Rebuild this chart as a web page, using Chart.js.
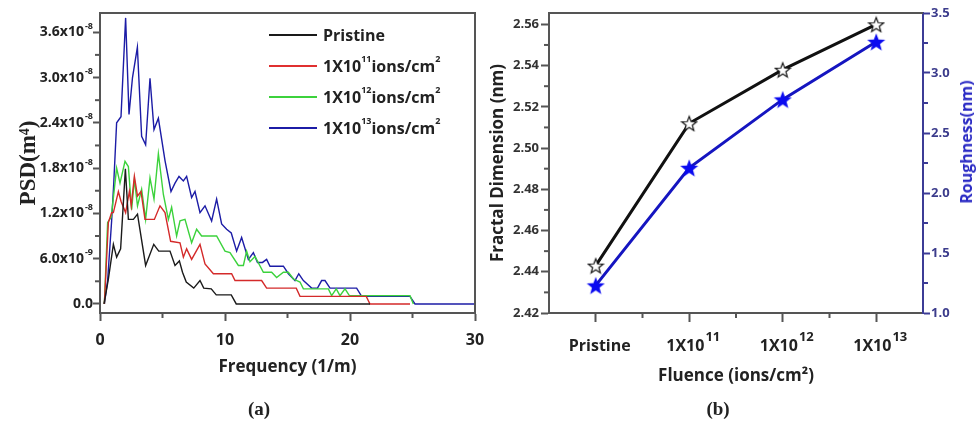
<!DOCTYPE html>
<html lang="en">
<head>
<meta charset="UTF-8">
<title>PSD spectra and fractal dimension vs fluence</title>
<script src="https://cdn.jsdelivr.net/npm/chart.js"></script>
<style>
  body, html {
    margin: 0;
    padding: 0;
    width: 978px;
    height: 440px;
    background: #fff;
    overflow: hidden;
    font-family: 'Open Sans', 'Noto Sans', sans-serif;
  }
  #wrap { position: relative; width: 978px; height: 440px; }
  canvas { position: absolute; top: 0; }
  #psdChart { left: 0; }
  #fluenceChart { left: 480px; }
  .legend {
    position: absolute;
    left: 269px;
    top: 19px;
    font-weight: bold;
    font-size: 16px;
    color: #222;
  }
  .legend-item { display: flex; align-items: center; height: 31px; white-space: nowrap; }
  .legend-line { display: inline-block; width: 48px; height: 2px; margin-right: 6px; }
  .legend sup { font-size: 9px; line-height: 0; position: relative; top: -0.35em; vertical-align: super; }
  .tag {
    position: absolute;
    top: 398px;
    font-family: 'Liberation Serif', serif;
    font-weight: bold;
    font-size: 19px;
    color: #222;
    transform: translateX(-50%);
  }
  .rough-title {
    position: absolute;
    left: 966px;
    top: 142px;
    transform: translate(-50%, -50%) rotate(-90deg);
    white-space: nowrap;
    font-weight: bold;
    font-size: 16px;
    color: #2a2ac4;
  }
</style>
</head>
<body>
<div id="wrap">
  <canvas id="psdChart" width="490" height="440"></canvas>
  <canvas id="fluenceChart" width="498" height="440"></canvas>
  <div class="legend">
    <div class="legend-item"><span class="legend-line" style="background:#1a1a1a"></span><span>Pristine</span></div>
    <div class="legend-item"><span class="legend-line" style="background:#e03030"></span><span>1X10<sup>11</sup>ions/cm<sup>2</sup></span></div>
    <div class="legend-item"><span class="legend-line" style="background:#3cd23c"></span><span>1X10<sup>12</sup>ions/cm<sup>2</sup></span></div>
    <div class="legend-item"><span class="legend-line" style="background:#1c1ca6"></span><span>1X10<sup>13</sup>ions/cm<sup>2</sup></span></div>
  </div>
  <div class="tag" style="left:259px">(a)</div>
  <div class="tag" style="left:718px">(b)</div>
  <div class="rough-title">Roughness(nm)</div>
</div>
<script>
// ---- panel (a): PSD spectra, frequency in 1/m, PSD in units of 1e-9 m^4
const pristineX = [0.32, 0.67, 1.07, 1.33, 1.65, 2.03, 2.27, 2.67, 3.0, 3.65, 4.3, 4.7, 5.6, 6.0, 6.35,
  6.6, 6.9, 7.5, 8.0, 8.3, 8.9, 9.3, 10.5, 10.9, 21.6];
const pristineY = [0, 3.3, 7.9, 6.2, 7.3, 17.9, 11.2, 11.2, 11.9, 5.1, 7.9, 7.0, 7.0, 5.1, 5.7,
  4.2, 2.9, 2.1, 3.1, 2.1, 2.0, 1.2, 1.2, 0, 0];

const f11X = [0.35, 0.67, 0.93, 1.07, 1.47, 1.68, 2.05, 2.35, 2.5, 2.75, 3.0, 3.28, 3.6, 4.35, 4.8,
  5.2, 5.65, 6.4, 6.67, 6.93, 7.33, 8.0, 8.4, 9.07, 10.53, 10.8, 12.93, 13.33, 15.7, 16.0, 21.3, 21.6, 24.8];
const f11Y = [0, 10.8, 12.1, 12.1, 14.9, 13.6, 12.1, 14.9, 13.0, 16.9, 14.3, 14.9, 11.2, 11.2, 13.0,
  12.1, 8.3, 8.1, 6.2, 7.3, 5.9, 7.9, 5.3, 4.0, 4.0, 3.1, 3.1, 2.1, 2.1, 1.0, 1.0, 0, 0];

const f12X = [0.35, 0.61, 0.9, 1.33, 1.6, 2.0, 2.27, 2.53, 2.75, 3.0, 3.33, 3.65, 4.0, 4.32, 4.67,
  5.07, 5.47, 5.73, 6.13, 6.4, 6.8, 7.33, 7.73, 8.13, 9.33, 10.0, 10.4, 11.07, 11.47, 11.73,
  12.0, 12.4, 13.07, 13.73, 14.13, 14.67, 15.07, 15.47, 16.0, 16.27, 18.27, 18.53, 18.9, 19.2, 19.6,
  19.95, 24.8, 25.07];
const f12Y = [0, 10.8, 11.5, 18.0, 16.0, 18.9, 18.2, 12.5, 16.5, 13.0, 15.2, 11.2, 16.7, 13.9, 19.9,
  14.5, 11.2, 12.8, 9.0, 11.0, 11.2, 8.1, 9.9, 9.0, 9.0, 7.0, 6.8, 5.1, 5.1, 7.0,
  5.6, 6.3, 4.2, 4.2, 3.5, 4.2, 4.2, 3.3, 2.9, 2.0, 2.0, 1.1, 2.0, 1.1, 2.0,
  1.1, 1.1, 0];

const f13X = [0.35, 0.61, 0.93, 1.1, 1.33, 1.68, 2.05, 2.32, 2.6, 2.99, 3.33, 3.65, 4.0, 4.32, 4.67,
  5.2, 5.68, 6.0, 6.32, 6.67, 6.93, 7.33, 7.6, 8.0, 8.4, 8.93, 9.33, 9.73, 10.13, 10.5,
  10.93, 11.33, 11.87, 12.27, 12.6, 13.0, 13.33, 13.6, 14.67, 15.07, 15.6, 15.9, 16.27, 16.93, 17.4,
  17.73, 18.0, 18.4, 20.53, 20.93, 24.8, 25.2, 30];
const f13Y = [0, 3.1, 11, 16, 24.0, 24.8, 37.9, 25.1, 30, 34.0, 22.2, 21.1, 29.9, 23.1, 24.6,
  19, 14.9, 16.0, 16.9, 16.3, 16.9, 14.1, 14.9, 12.1, 13.0, 11.0, 13.9, 10.6, 9.9, 9.4,
  7.0, 8.8, 5.9, 6.8, 5.5, 5.5, 5.9, 5.0, 5.0, 4.0, 3.1, 4.0, 3.1, 2.1, 2.1,
  3.1, 3.1, 2.1, 2.1, 1.0, 1.0, 0, 0];

const psdTicks = [0, 6, 12, 18, 24, 30, 36];
const psdTickLabels = ['0.0', '6.0x10^-9', '1.2x10^-8', '1.8x10^-8', '2.4x10^-8', '3.0x10^-8', '3.6x10^-8'];
const psdMinor = [3, 9, 15, 21, 27, 33];
const freqTicks = [0, 10, 20, 30];
const freqTickLabels = ['0', '10', '20', '30'];
const freqMinor = [5, 15, 25];

// ---- panel (b): fractal dimension and roughness vs fluence
const fluenceLabels = ['Pristine', '1X10^11', '1X10^12', '1X10^13'];
const fractalDim = [2.443, 2.512, 2.538, 2.560];
const roughness = [1.23, 2.21, 2.78, 3.26];
const fractalTicks = [2.42, 2.44, 2.46, 2.48, 2.50, 2.52, 2.54, 2.56];
const fractalMinor = [2.43, 2.45, 2.47, 2.49, 2.51, 2.53, 2.55];
const roughTicks = [1.0, 1.5, 2.0, 2.5, 3.0, 3.5];
const roughMinor = [1.25, 1.75, 2.25, 2.75, 3.25];

const FONT = "'Open Sans', 'Noto Sans', sans-serif";
const AXIS = '#555';
const TEXT = '#222';

function pairs(xs, ys) {
  return xs.map((x, i) => ({ x: x, y: ys[i] }));
}

// text with an optional superscript part after '^'
function drawSupText(ctx, text, x, y, o) {
  const parts = text.split('^');
  const base = parts[0], exp = parts[1] || '';
  const baseFont = 'bold ' + o.size + 'px ' + FONT;
  const expFont = 'bold ' + o.expSize + 'px ' + FONT;
  ctx.font = baseFont;
  const bw = ctx.measureText(base).width;
  let ew = 0;
  if (exp) { ctx.font = expFont; ew = ctx.measureText(exp).width + 1; }
  const total = bw + ew;
  let x0 = x;
  if (o.align === 'right') x0 = x - total;
  else if (o.align === 'center') x0 = x - total / 2;
  ctx.fillStyle = o.color;
  ctx.textAlign = 'left';
  ctx.textBaseline = 'middle';
  ctx.font = baseFont;
  ctx.fillText(base, x0, y);
  if (exp) {
    ctx.font = expFont;
    ctx.fillText(exp, x0 + bw + 1, y - o.rise);
  }
}

// minor ticks, superscript tick labels and the plot frame
const axisDecor = {
  id: 'axisDecor',
  afterDraw(chart, args, opts) {
    const ctx = chart.ctx;
    ctx.save();
    (opts.minor || []).forEach(m => {
      const s = chart.scales[m.scale];
      ctx.strokeStyle = m.color;
      ctx.lineWidth = 2;
      m.values.forEach(v => {
        const p = s.getPixelForValue(v);
        ctx.beginPath();
        if (s.isHorizontal()) { ctx.moveTo(p, s.top); ctx.lineTo(p, s.top + m.length); }
        else if (s.position === 'left') { ctx.moveTo(s.right, p); ctx.lineTo(s.right - m.length, p); }
        else { ctx.moveTo(s.left, p); ctx.lineTo(s.left + m.length, p); }
        ctx.stroke();
      });
    });
    (opts.labels || []).forEach(l => {
      const s = chart.scales[l.scale];
      l.values.forEach((v, i) => {
        const p = s.getPixelForValue(v);
        if (s.isHorizontal()) drawSupText(ctx, l.texts[i], p + (l.dx || 0), s.top + l.gap, l);
        else if (s.position === 'left') drawSupText(ctx, l.texts[i], s.right - l.gap, p, l);
        else drawSupText(ctx, l.texts[i], s.left + l.gap, p, l);
      });
    });
    const a = chart.chartArea;
    ctx.strokeStyle = AXIS;
    ctx.lineWidth = 2;
    ctx.beginPath();
    ctx.moveTo(a.left, a.top);
    ctx.lineTo(a.right, a.top);
    if (opts.rightFrame) ctx.lineTo(a.right, a.bottom);
    ctx.stroke();
    ctx.restore();
  }
};

new Chart(document.getElementById('psdChart').getContext('2d'), {
  type: 'line',
  data: {
    datasets: [
      { label: 'Pristine', data: pairs(pristineX, pristineY), borderColor: '#1a1a1a' },
      { label: '1X10^11 ions/cm^2', data: pairs(f11X, f11Y), borderColor: '#d42a2a' },
      { label: '1X10^12 ions/cm^2', data: pairs(f12X, f12Y), borderColor: '#3cd23c' },
      { label: '1X10^13 ions/cm^2', data: pairs(f13X, f13Y), borderColor: '#1c1ca6' }
    ]
  },
  options: {
    responsive: false,
    animation: false,
    layout: { padding: { top: 13, right: 15, left: 0, bottom: 0 } },
    elements: {
      line: { borderWidth: 1.4, tension: 0 },
      point: { radius: 0 }
    },
    plugins: {
      legend: { display: false },
      tooltip: { enabled: false },
      axisDecor: {
        rightFrame: true,
        minor: [
          { scale: 'x', values: freqMinor, length: 5, color: AXIS },
          { scale: 'y', values: psdMinor, length: 5, color: AXIS }
        ],
        labels: [
          { scale: 'x', values: freqTicks, texts: freqTickLabels, gap: 27, align: 'center', size: 16, expSize: 10, rise: 6, color: TEXT },
          { scale: 'y', values: psdTicks, texts: psdTickLabels, gap: 7, align: 'right', size: 14, expSize: 9, rise: 6, color: TEXT }
        ]
      }
    },
    scales: {
      x: {
        type: 'linear',
        min: 0,
        max: 30,
        afterBuildTicks: s => { s.ticks = freqTicks.map(v => ({ value: v })); },
        afterFit: s => { s.height = 127; },
        ticks: { display: false },
        grid: { drawOnChartArea: false, tickLength: 8, tickColor: AXIS, tickWidth: 2 },
        border: { color: AXIS, width: 2 },
        title: {
          display: true,
          text: 'Frequency (1/m)',
          color: TEXT,
          font: { family: FONT, size: 17, weight: 'bold' },
          padding: { top: 0, bottom: 63 }
        }
      },
      y: {
        type: 'linear',
        min: -1.2,
        max: 38.55,
        afterBuildTicks: s => { s.ticks = psdTicks.map(v => ({ value: v })); },
        afterFit: s => { s.width = 100; },
        ticks: { display: false },
        grid: { drawOnChartArea: false, tickLength: 7, tickColor: AXIS, tickWidth: 2 },
        border: { color: AXIS, width: 2 },
        title: {
          display: true,
          text: 'PSD(m⁴)',
          color: TEXT,
          font: { family: "'Liberation Serif', serif", size: 23, weight: 'bold' },
          padding: { top: 15, bottom: 0 }
        }
      }
    }
  },
  plugins: [axisDecor]
});

// five-pointed star marker
function makeStar(size, fill, stroke, lw) {
  const c = document.createElement('canvas');
  c.width = size;
  c.height = size;
  const g = c.getContext('2d');
  const cx = size / 2, cy = size / 2 + size * 0.05;
  const R = size / 2 - lw, r = R * 0.42;
  g.beginPath();
  for (let i = 0; i < 10; i++) {
    const ang = -Math.PI / 2 + i * Math.PI / 5;
    const rad = i % 2 ? r : R;
    g.lineTo(cx + rad * Math.cos(ang), cy + rad * Math.sin(ang));
  }
  g.closePath();
  g.fillStyle = fill;
  g.fill();
  if (stroke) { g.lineWidth = lw; g.strokeStyle = stroke; g.stroke(); }
  return c;
}

const hollowStar = makeStar(18, '#fff', '#111', 1.2);
const blueStar = makeStar(20, '#0a0af0', null, 0.5);

new Chart(document.getElementById('fluenceChart').getContext('2d'), {
  type: 'line',
  data: {
    labels: fluenceLabels,
    datasets: [
      {
        label: 'Fractal Dimension',
        data: fractalDim,
        yAxisID: 'y',
        borderColor: '#111',
        borderWidth: 3,
        pointStyle: hollowStar
      },
      {
        label: 'Roughness',
        data: roughness,
        yAxisID: 'y2',
        borderColor: '#1515c0',
        borderWidth: 3,
        pointStyle: blueStar
      }
    ]
  },
  options: {
    responsive: false,
    animation: false,
    layout: { padding: { top: 13, right: 0, left: 0, bottom: 0 } },
    elements: { line: { tension: 0 } },
    plugins: {
      legend: { display: false },
      tooltip: { enabled: false },
      axisDecor: {
        rightFrame: false,
        minor: [
          { scale: 'x', values: [0.5, 1.5, 2.5], length: 5, color: AXIS },
          { scale: 'y', values: fractalMinor, length: 5, color: AXIS },
          { scale: 'y2', values: roughMinor, length: 5, color: '#3c3c96' }
        ],
        labels: [
          { scale: 'x', values: [0, 1, 2, 3], texts: fluenceLabels, gap: 33, dx: 4, align: 'center', size: 16, expSize: 13, rise: 9, color: TEXT },
          { scale: 'y', values: fractalTicks, texts: fractalTicks.map(v => v.toFixed(2)), gap: 10, align: 'right', size: 13, expSize: 9, rise: 6, color: '#333' },
          { scale: 'y2', values: roughTicks, texts: roughTicks.map(v => v.toFixed(1)), gap: 8, align: 'left', size: 13, expSize: 9, rise: 6, color: '#3c3c8c' }
        ]
      }
    },
    scales: {
      x: {
        type: 'category',
        offset: true,
        afterFit: s => { s.height = 127; },
        ticks: { display: false },
        grid: { drawOnChartArea: false, tickLength: 9, tickColor: AXIS, tickWidth: 2 },
        border: { color: AXIS, width: 2 },
        title: {
          display: true,
          text: 'Fluence (ions/cm²)',
          color: TEXT,
          font: { family: FONT, size: 17, weight: 'bold' },
          padding: { top: 0, bottom: 54 }
        }
      },
      y: {
        position: 'left',
        min: 2.42,
        max: 2.5655,
        afterBuildTicks: s => { s.ticks = fractalTicks.map(v => ({ value: v })); },
        afterFit: s => { s.width = 69; },
        ticks: { display: false },
        grid: { drawOnChartArea: false, tickLength: 8, tickColor: AXIS, tickWidth: 2 },
        border: { color: AXIS, width: 2 },
        title: {
          display: true,
          text: 'Fractal Dimension (nm)',
          color: TEXT,
          font: { family: FONT, size: 17, weight: 'bold' },
          padding: { top: 8, bottom: 0 }
        }
      },
      y2: {
        position: 'right',
        min: 1.0,
        max: 3.5,
        afterBuildTicks: s => { s.ticks = roughTicks.map(v => ({ value: v })); },
        afterFit: s => { s.width = 55; },
        ticks: { display: false },
        grid: { drawOnChartArea: false, tickLength: 7, tickColor: '#3c3c96', tickWidth: 2 },
        border: { color: '#3c3c96', width: 2 }
      }
    }
  },
  plugins: [axisDecor]
});
</script>
</body>
</html>
